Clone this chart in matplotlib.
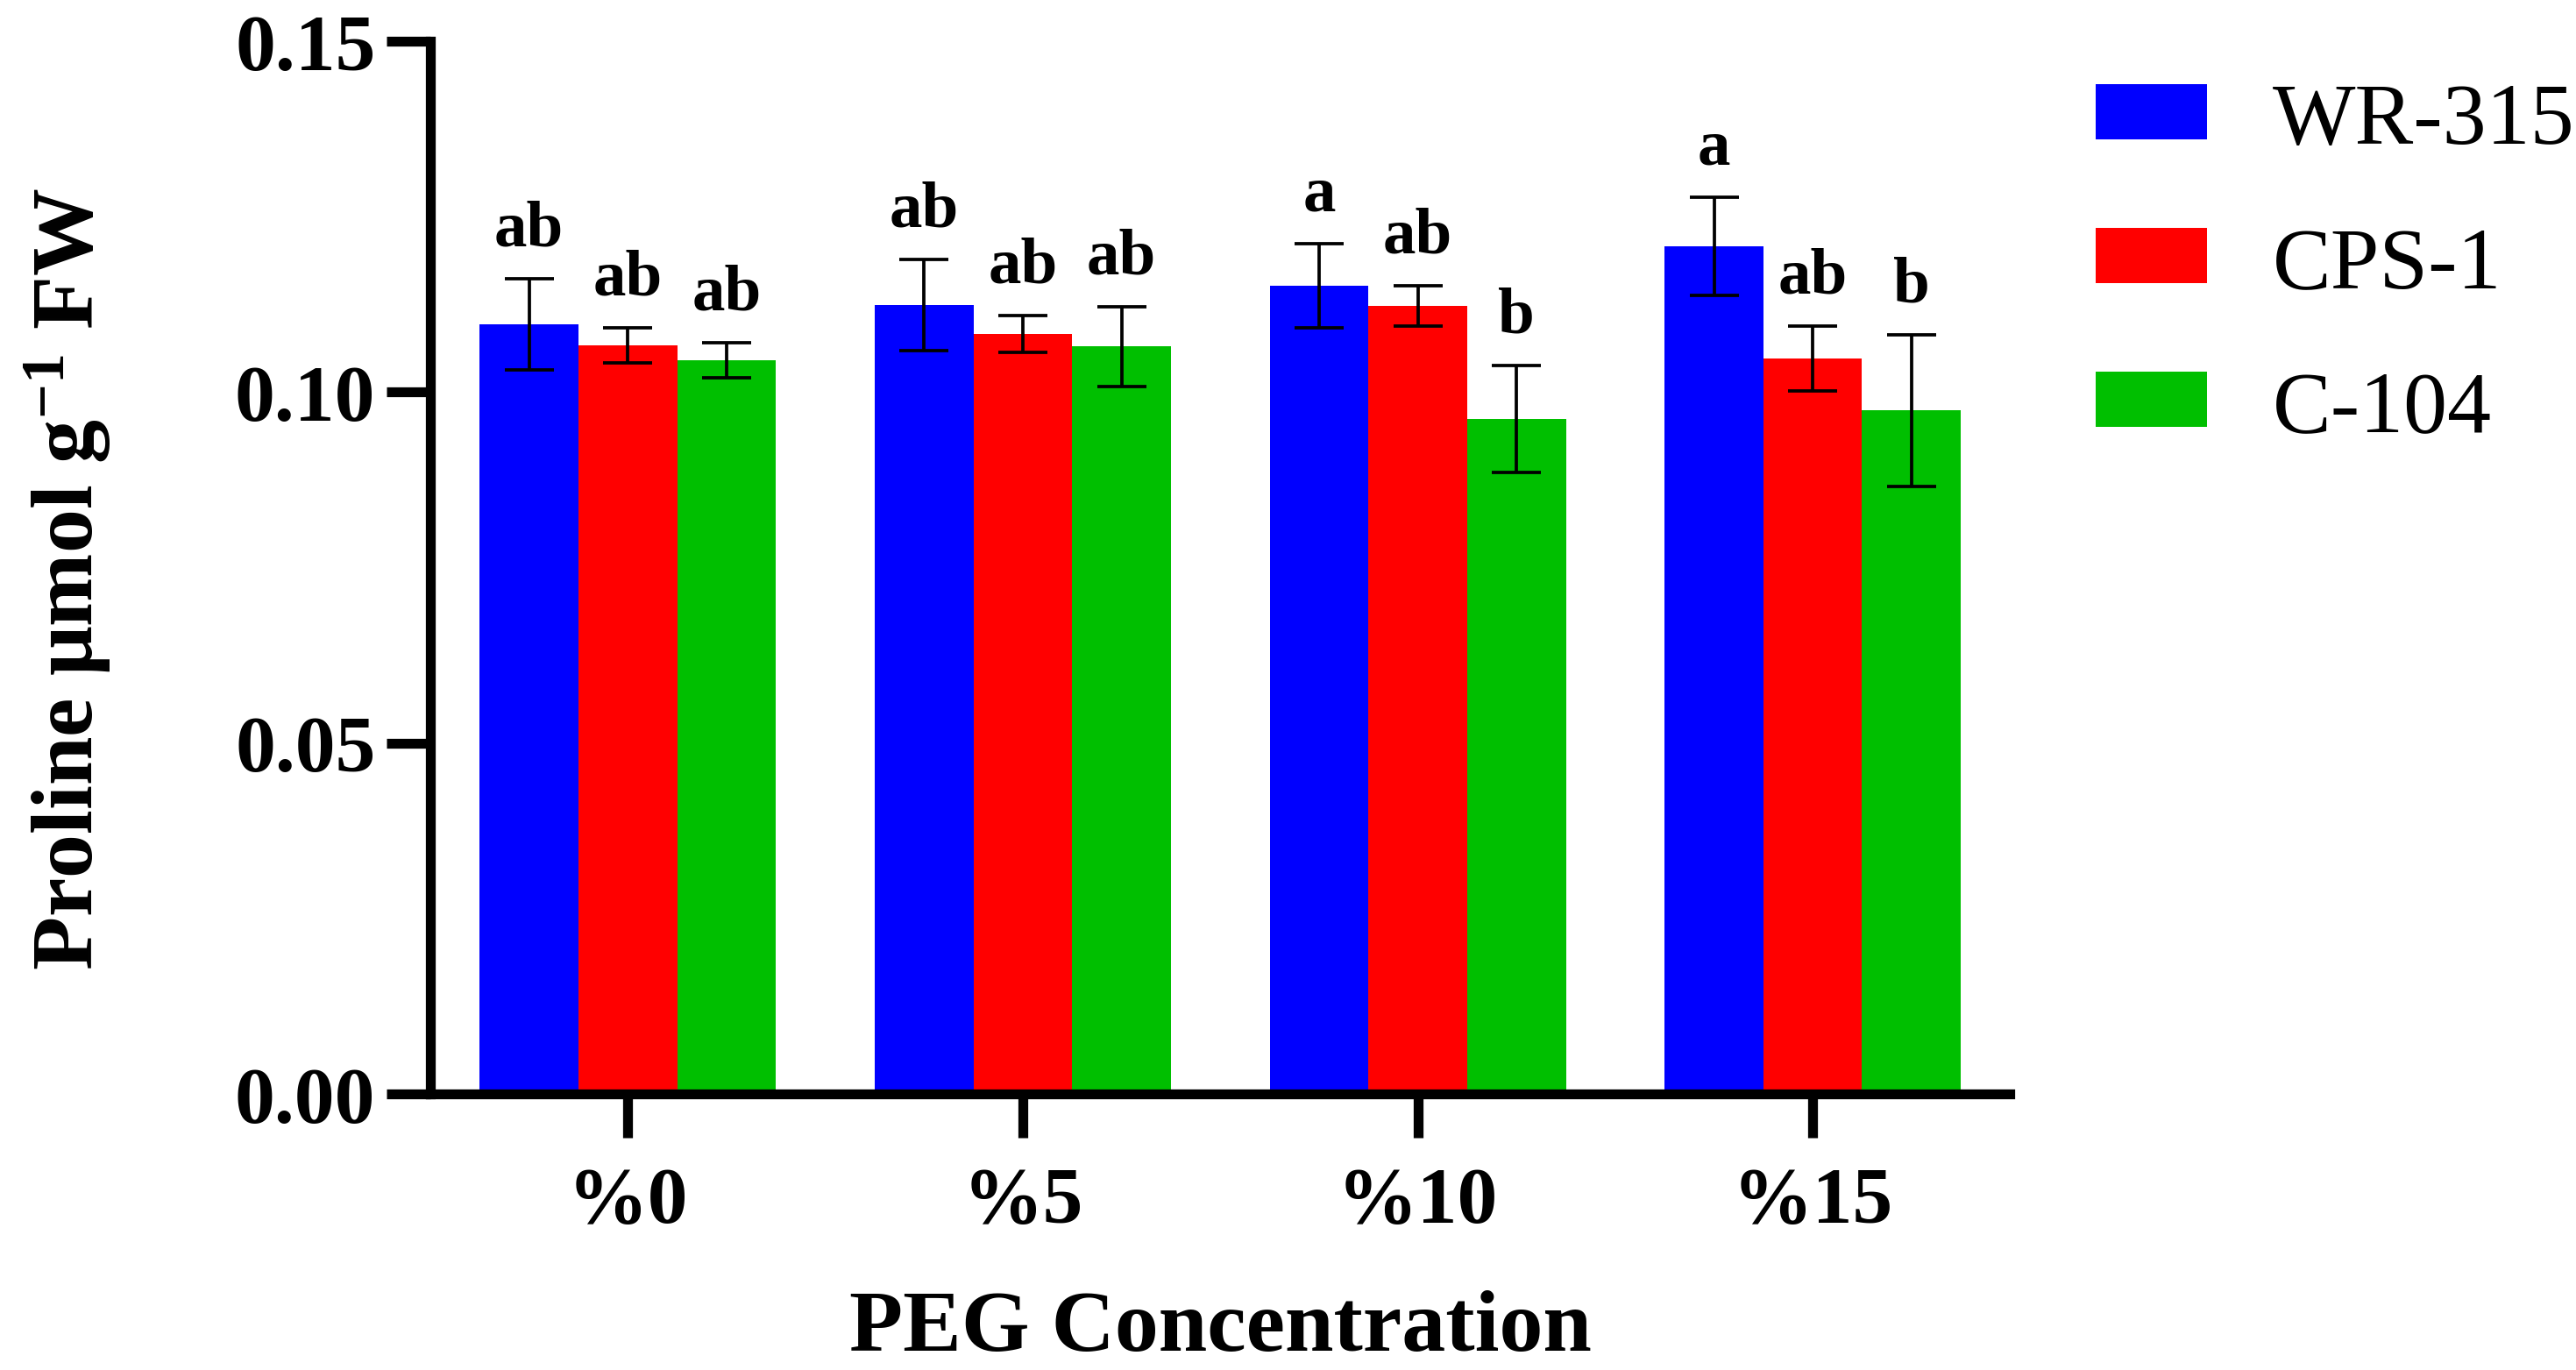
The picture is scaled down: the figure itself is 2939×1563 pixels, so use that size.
import numpy as np
import matplotlib.pyplot as plt

plt.rcParams['font.family'] = ['Liberation Serif', 'DejaVu Serif']
plt.rcParams['mathtext.fontset'] = 'custom'
plt.rcParams['mathtext.rm'] = 'Liberation Serif:bold'
plt.rcParams['mathtext.it'] = 'Liberation Serif:italic:bold'
plt.rcParams['mathtext.bf'] = 'Liberation Serif:bold'

# data
concentrations = ['%0', '%5', '%10', '%15']
cultivars = ['WR-315', 'CPS-1', 'C-104']
colors = ['#0000FF', '#FF0000', '#00BF00']

wr315 = [0.1097, 0.1124, 0.1152, 0.1208]
wr315_err = [0.0065, 0.0065, 0.0060, 0.0070]
cps1 = [0.1067, 0.1083, 0.1123, 0.1048]
cps1_err = [0.0025, 0.0026, 0.0029, 0.0046]
c104 = [0.1045, 0.1065, 0.0962, 0.0974]
c104_err = [0.0025, 0.0057, 0.0076, 0.0108]

letters_wr315 = ['ab', 'ab', 'a', 'a']
letters_cps1 = ['ab', 'ab', 'ab', 'ab']
letters_c104 = ['ab', 'ab', 'b', 'b']

means = [wr315, cps1, c104]
errs = [wr315_err, cps1_err, c104_err]
letters = [letters_wr315, letters_cps1, letters_c104]

fig = plt.figure(figsize=(2939 / 300, 1564 / 300), dpi=300)
ax = fig.add_axes([0.16706, 0.2014, 0.6133, 0.7679])

x = np.arange(len(concentrations))
w = 0.25
for i, name in enumerate(cultivars):
    xi = x + (i - 1) * w
    ax.bar(xi, means[i], width=w, color=colors[i], linewidth=0,
           label=name, zorder=1)
    ax.errorbar(xi, means[i], yerr=errs[i], fmt='none', ecolor='black',
                elinewidth=0.9, capsize=6.8, capthick=0.9, zorder=3)
    for xx, m, e, t in zip(xi, means[i], errs[i], letters[i]):
        ax.text(xx, m + e + 0.0048, t, ha='center', va='baseline',
                fontsize=18, fontweight='bold')

ax.set_xlim(-0.5, 3.5)
ax.set_ylim(0, 0.15)
ax.set_xticks(x)
ax.set_xticklabels(concentrations)
ax.set_yticks([0, 0.05, 0.10, 0.15])
ax.set_yticklabels(['0.00', '0.05', '0.10', '0.15'])

for s in ['top', 'right']:
    ax.spines[s].set_visible(False)
for s in ['left', 'bottom']:
    ax.spines[s].set_linewidth(2.7)

ax.tick_params(axis='both', direction='out', length=12, width=2.7,
               labelsize=22)
ax.tick_params(axis='y', pad=3)
ax.tick_params(axis='x', pad=8)
for lab in ax.get_xticklabels() + ax.get_yticklabels():
    lab.set_fontweight('bold')

ax.set_xlabel('PEG Concentration', fontsize=24, fontweight='bold')
ax.xaxis.set_label_coords(0.5, -0.186)
ax.set_ylabel('Proline \u03bcmol g$^{-1}$ FW', fontsize=24, fontweight='bold')
ax.yaxis.set_label_coords(-0.2008, 0.49)

ax.legend(loc='upper left', bbox_to_anchor=(0.8135, 0.9393),
          bbox_transform=fig.transFigure, frameon=False, fontsize=24,
          handlelength=1.27, handleheight=0.592, handletextpad=0.75,
          labelspacing=0.74, borderpad=0, borderaxespad=0)

fig.savefig('out.png', dpi=300)
